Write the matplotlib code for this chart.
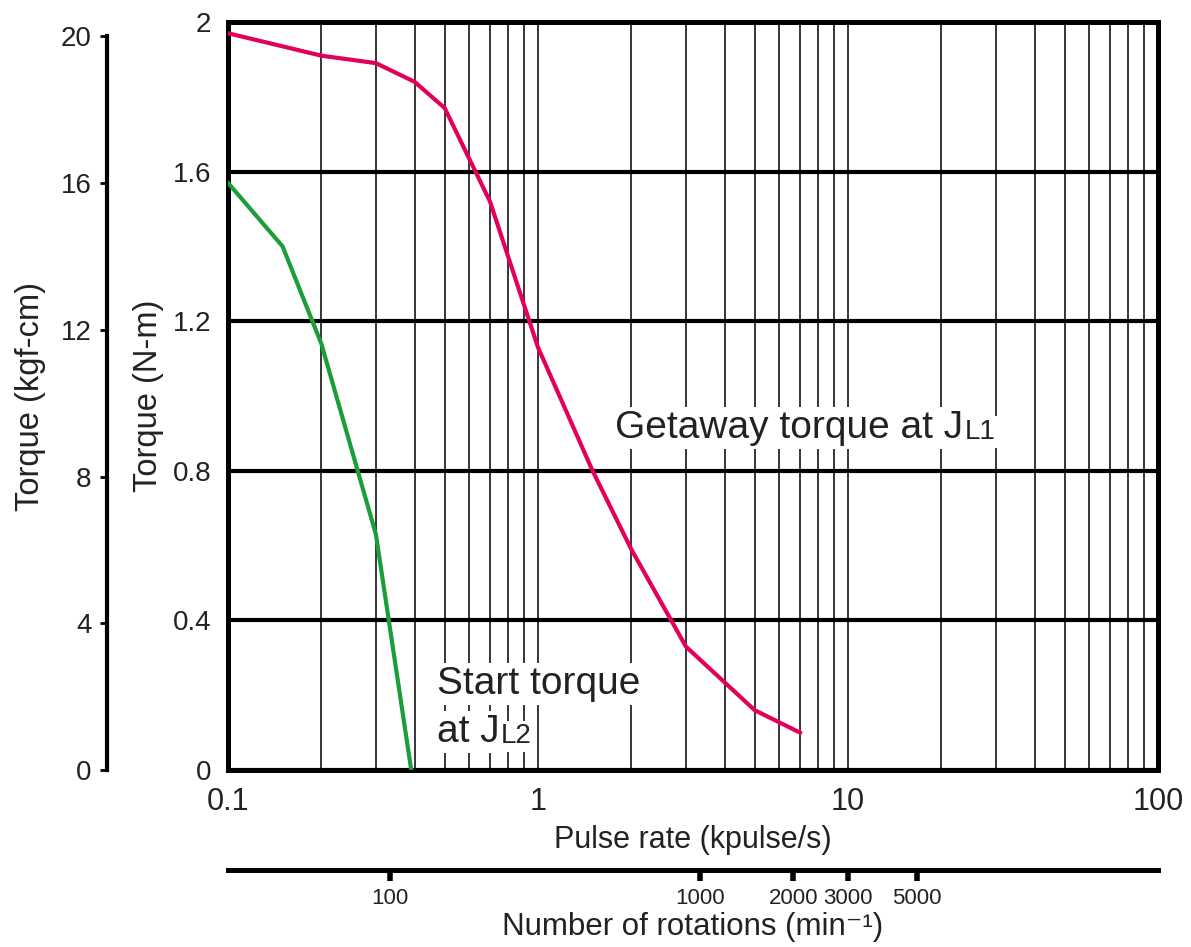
import matplotlib
matplotlib.use("Agg")
import matplotlib.pyplot as plt
from matplotlib.ticker import FixedLocator, NullLocator, NullFormatter, LogLocator

# data
pulse_getaway = [0.1, 0.2, 0.3, 0.4, 0.5, 0.7, 1.0, 1.5, 2.0, 3.0, 5.0, 7.0]
torque_getaway = [1.97, 1.91, 1.89, 1.84, 1.77, 1.52, 1.13, 0.80, 0.59, 0.33, 0.16, 0.10]

pulse_start = [0.1, 0.15, 0.2, 0.3, 0.39]
torque_start = [1.57, 1.40, 1.14, 0.63, 0.0]

x_ticks = [0.1, 1, 10, 100]
x_labels = ["0.1", "1", "10", "100"]
y_ticks = [0, 0.4, 0.8, 1.2, 1.6, 2.0]
y_labels = ["0", "0.4", "0.8", "1.2", "1.6", "2"]
kgf_ticks = [0, 4, 8, 12, 16, 20]
rpm_ticks = [100, 1000, 2000, 3000, 5000]

KGF = 0.0980665      # N-m per kgf-cm
RPM_PER_KPPS = 300   # 1.8 deg step

plt.rcParams["font.family"] = ["Liberation Sans", "DejaVu Sans"]
txt = "#222222"

fig = plt.figure(figsize=(11.91, 9.47), dpi=100)
ax = fig.add_axes([228/1191, 1-770/947, 930/1191, 748/947])

ax.plot(pulse_getaway, torque_getaway, color="#e3005b", lw=3, zorder=4)
ax.plot(pulse_start, torque_start, color="#1a9e3a", lw=3, zorder=4)

ax.set_xscale("log")
ax.set_xlim(0.1, 100)
ax.set_ylim(0, 2.0)
ax.xaxis.set_major_locator(FixedLocator(x_ticks))
ax.set_xticklabels(x_labels)
ax.xaxis.set_minor_locator(LogLocator(base=10, subs=range(2, 10)))
ax.xaxis.set_minor_formatter(NullFormatter())
ax.set_yticks(y_ticks)
ax.set_yticklabels(y_labels)
ax.tick_params(which="both", length=0)
ax.tick_params(axis="x", labelsize=22, pad=12, colors=txt)
ax.tick_params(axis="y", labelsize=20, pad=12, colors=txt)

ax.grid(axis="x", which="both", color="black", lw=1.1)
ax.grid(axis="y", which="major", color="black", lw=3)
for s in ax.spines.values():
    s.set_linewidth(3.6)

ax.set_xlabel("Pulse rate (kpulse/s)", fontsize=22, color=txt, labelpad=6)
ax.set_ylabel("Torque (N-m)", fontsize=23.5, color=txt, labelpad=6)


def label_with_sub(x, y, main, sub):
    # main text, then a smaller subscript sitting almost on the same baseline
    box = dict(facecolor="white", edgecolor="none", pad=2)
    t = ax.text(x, y, main, fontsize=28, color=txt, ha="left", va="baseline",
                zorder=5, bbox=box)
    ax.annotate(sub, xy=(1, y), xycoords=(t, "data"), xytext=(1, -1),
                textcoords="offset points", fontsize=20, color=txt,
                ha="left", va="baseline", zorder=5, bbox=box)
    return t


label_with_sub(1.77, 0.888, "Getaway torque at J", "L1")
ax.text(0.472, 0.203, "Start torque", fontsize=28, color=txt, ha="left",
        va="baseline", zorder=5,
        bbox=dict(facecolor="white", edgecolor="none", pad=2))
label_with_sub(0.472, 0.075, "at J", "L2")

# left axis in kgf-cm
sy = ax.secondary_yaxis((107-228)/930, functions=(lambda v: v/KGF, lambda v: v*KGF))
sy.set_yticks(kgf_ticks)
sy.set_yticklabels([str(k) for k in kgf_ticks])
sy.spines["left"].set_bounds(0, 20)
sy.spines["left"].set_linewidth(3)
sy.tick_params(length=5, width=2, pad=6, labelsize=20, colors="black", labelcolor=txt)
sy.set_ylabel("Torque (kgf-cm)", fontsize=23.5, color=txt, labelpad=11)

# bottom axis in rotations
sx = ax.secondary_xaxis((770-870)/748, functions=(lambda v: v*RPM_PER_KPPS,
                                                   lambda v: v/RPM_PER_KPPS))
sx.set_xticks(rpm_ticks)
sx.set_xticklabels([str(r) for r in rpm_ticks])
sx.xaxis.set_minor_locator(NullLocator())
sx.spines["bottom"].set_linewidth(3.6)
sx.tick_params(length=8, width=4, pad=5, labelsize=16, colors="black", labelcolor=txt)
sx.set_xlabel("Number of rotations (min\u207b\u00b9)", fontsize=22.5,
              color=txt, labelpad=2)

fig.savefig("out.png", dpi=100, facecolor="white")
